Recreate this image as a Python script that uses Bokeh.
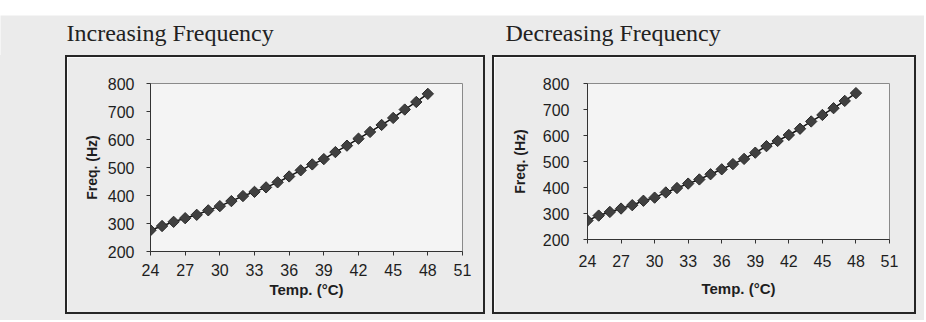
from bokeh.plotting import figure
from bokeh.layouts import column, row
from bokeh.models import Spacer, Label, Range1d
from bokeh.embed import file_html
from bokeh.resources import INLINE
import numpy as np

temps = list(range(24, 49))
freq_inc = [276, 291, 306, 319, 331, 347, 362, 380, 398, 413, 429, 447, 468,
            490, 511, 530, 555, 578, 603, 627, 652, 677, 707, 734, 763]
freq_dec = [273, 292, 306, 319, 332, 349, 361, 381, 398, 415, 431, 451, 470,
            490, 510, 534, 559, 579, 602, 626, 654, 679, 705, 733, 763]
x_ticks = [24, 27, 30, 33, 36, 39, 42, 45, 48, 51]
y_ticks = [200, 300, 400, 500, 600, 700, 800]
titles = ["Increasing Frequency", "Decreasing Frequency"]
x_label = "Temp. (°C)"
y_label = "Freq. (Hz)"

GRAY = "#ebebeb"
INNER = "#f4f4f4"
BOX = "2px solid #262626"
SANS = "Liberation Sans"


def panel(freqs, fw, fh, ml, mr, mt, mb, xl_stand, yl_stand, xt_stand, yt_stand):
    p = figure(frame_width=fw, frame_height=fh, min_border_left=ml, min_border_right=mr,
               min_border_top=mt, min_border_bottom=mb,
               x_range=Range1d(24, 51), y_range=Range1d(200, 800),
               toolbar_location=None, output_backend="svg",
               background_fill_color=INNER, border_fill_color=GRAY,
               outline_line_color="#8a8a8a", outline_line_width=1,
               styles={"border": BOX})
    p.grid.visible = False
    for ax in (p.xaxis[0], p.yaxis[0]):
        ax.axis_line_color = "#333333"
        ax.major_tick_line_color = "#333333"
        ax.major_tick_in = 0
        ax.major_tick_out = 4
        ax.minor_tick_line_color = None
        ax.major_label_text_font = SANS
        ax.major_label_text_font_size = "16px"
        ax.major_label_text_color = "#1e1e1e"
        ax.axis_label_text_font = SANS
        ax.axis_label_text_font_style = "bold"
        ax.axis_label_text_color = "#1e1e1e"
    p.xaxis.ticker = x_ticks
    p.yaxis.ticker = y_ticks
    p.xaxis.axis_label = x_label
    p.yaxis.axis_label = y_label
    p.xaxis.axis_label_text_font_size = "15px"
    p.yaxis.axis_label_text_font_size = "14px"
    p.xaxis.axis_label_standoff = xl_stand
    p.yaxis.axis_label_standoff = yl_stand
    p.xaxis.major_label_standoff = xt_stand
    p.yaxis.major_label_standoff = yt_stand
    p.line(temps, freqs, line_color="#111111", line_width=1.5)
    p.scatter(temps, freqs, marker="square", angle=np.pi / 4, size=8,
              fill_color="#404040", line_color="#2a2a2a", line_width=1)
    return p


p1 = panel(freq_inc, 308, 164, 83, 25, 22, 69, 2, 5, 8, 12)
p2 = panel(freq_dec, 298, 152, 93, 29, 26, 77, 10, 12, 11, 14)

t = figure(width=924, height=40, x_range=Range1d(0, 924), y_range=Range1d(0, 40),
           min_border=0, toolbar_location=None, output_backend="svg",
           x_axis_type=None, y_axis_type=None, outline_line_color=None,
           background_fill_color=GRAY, border_fill_color=GRAY)
t.grid.visible = False
t.add_layout(Label(x=66, y=23, text=titles[0], text_font="Liberation Serif",
                   text_font_size="24px", text_color="#222222", text_baseline="alphabetic"))
t.add_layout(Label(x=505, y=23, text=titles[1], text_font="Liberation Serif",
                   text_font_size="24px", text_color="#222222", text_baseline="alphabetic"))

sp_bg = {"background-color": GRAY}
panels = row(Spacer(width=65, height=259, styles=sp_bg), p1,
             Spacer(width=7, height=259, styles=sp_bg), p2,
             Spacer(width=8, height=259, styles=sp_bg))
layout = column(Spacer(width=924, height=15), t, panels,
                Spacer(width=924, height=6, styles=sp_bg))

open("out.html", "w").write(file_html(layout, INLINE))
